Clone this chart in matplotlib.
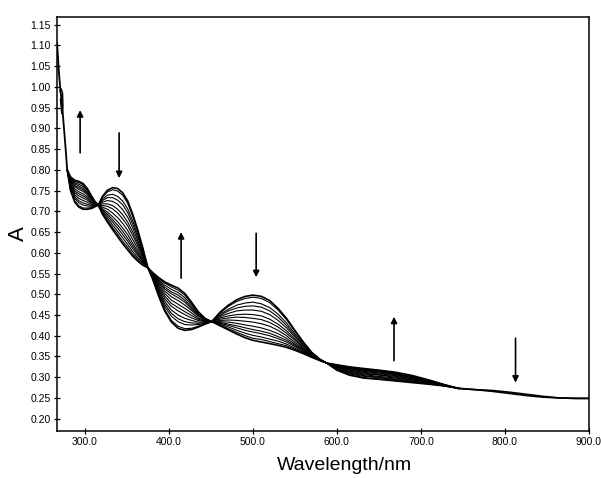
import numpy as np
import matplotlib.pyplot as plt

# steep common start of all spectra
head_nm = [267, 269, 271, 273, 275, 277, 279]
head_abs = [1.105, 1.040, 0.990, 0.955, 0.905, 0.855, 0.800]

# small loop near 272 nm
loop_nm = [270.5, 272, 273.5, 274, 273, 272, 271]
loop_abs = [0.990, 0.995, 0.985, 0.955, 0.935, 0.945, 0.970]

# absorbance of the 14 spectra (columns) at each wavelength (rows), first to last
wavelengths = [279, 283, 288, 293, 298, 303, 308, 312, 316,
               321, 327, 333, 339, 345, 351, 357, 363, 369, 375,
               381, 388, 395, 403, 411, 419, 427, 435, 443, 451,
               461, 471, 481, 491, 500, 510, 520, 530, 540, 550, 560, 570, 580, 588,
               600, 615, 632, 650, 670, 690, 710, 728, 745]
absorbance = [
    [.800, .800, .800, .800, .800, .800, .800, .800, .800, .800, .800, .800, .800, .800],
    [.750, .752, .755, .758, .761, .764, .767, .770, .773, .775, .777, .779, .781, .783],
    [.722, .725, .731, .735, .740, .745, .749, .754, .759, .762, .766, .769, .772, .775],
    [.710, .713, .720, .725, .731, .737, .742, .747, .753, .757, .761, .765, .769, .772],
    [.705, .708, .715, .720, .726, .732, .737, .742, .748, .752, .756, .760, .764, .767],
    [.705, .708, .713, .717, .722, .727, .731, .735, .740, .743, .746, .750, .753, .755],
    [.707, .709, .712, .714, .717, .720, .722, .725, .728, .730, .732, .734, .736, .737],
    [.711, .712, .713, .714, .715, .717, .718, .719, .720, .721, .722, .723, .723, .724],
    [.715, .715, .715, .715, .715, .715, .715, .715, .715, .715, .715, .715, .715, .715],
    [.736, .734, .729, .726, .722, .718, .714, .710, .706, .703, .701, .698, .695, .693],
    [.751, .747, .739, .733, .726, .718, .712, .705, .698, .693, .688, .683, .678, .674],
    [.757, .752, .741, .733, .724, .714, .706, .696, .687, .680, .674, .667, .661, .656],
    [.755, .749, .736, .727, .717, .705, .696, .685, .675, .667, .660, .652, .645, .639],
    [.745, .739, .725, .716, .704, .692, .682, .671, .660, .652, .644, .636, .628, .622],
    [.725, .719, .706, .697, .686, .674, .665, .654, .644, .635, .628, .620, .613, .607],
    [.693, .688, .677, .669, .660, .650, .642, .632, .623, .616, .610, .603, .597, .592],
    [.655, .651, .643, .637, .630, .623, .617, .610, .603, .598, .594, .588, .584, .580],
    [.612, .610, .605, .602, .598, .594, .591, .587, .583, .580, .578, .575, .572, .570],
    [.564, .564, .564, .564, .564, .564, .564, .564, .564, .564, .564, .564, .564, .564],
    [.535, .536, .538, .539, .541, .542, .544, .545, .547, .548, .549, .550, .551, .552],
    [.495, .497, .502, .506, .510, .514, .518, .522, .526, .529, .532, .535, .538, .540],
    [.460, .464, .471, .477, .483, .490, .496, .502, .508, .513, .517, .522, .527, .530],
    [.433, .437, .447, .454, .462, .471, .478, .486, .494, .501, .506, .512, .518, .522],
    [.418, .423, .434, .441, .450, .460, .468, .476, .485, .492, .498, .504, .510, .515],
    [.413, .417, .427, .434, .442, .451, .458, .466, .474, .481, .486, .492, .498, .502],
    [.415, .418, .426, .431, .437, .443, .449, .455, .461, .465, .469, .474, .478, .481],
    [.421, .423, .427, .430, .433, .437, .440, .443, .447, .449, .451, .454, .456, .458],
    [.428, .429, .430, .431, .433, .434, .435, .436, .438, .439, .440, .440, .441, .442],
    [.434, .434, .434, .434, .434, .434, .434, .434, .434, .434, .434, .434, .434, .434],
    [.457, .455, .452, .449, .446, .443, .440, .437, .434, .432, .430, .428, .426, .424],
    [.474, .471, .464, .460, .454, .448, .443, .438, .433, .428, .425, .421, .417, .414],
    [.487, .483, .474, .467, .460, .451, .445, .437, .430, .424, .419, .413, .408, .404],
    [.495, .490, .479, .471, .462, .452, .444, .435, .426, .419, .413, .406, .400, .395],
    [.498, .493, .481, .472, .462, .451, .442, .433, .423, .415, .409, .401, .394, .389],
    [.495, .490, .477, .469, .459, .448, .439, .429, .419, .411, .405, .397, .391, .385],
    [.485, .480, .468, .460, .451, .440, .432, .423, .413, .406, .400, .392, .386, .381],
    [.466, .462, .452, .445, .437, .428, .421, .413, .405, .398, .393, .387, .381, .377],
    [.442, .439, .431, .425, .419, .412, .406, .400, .394, .389, .385, .380, .376, .372],
    [.413, .411, .405, .401, .397, .392, .389, .384, .380, .377, .374, .370, .367, .365],
    [.385, .384, .381, .378, .376, .373, .371, .368, .366, .364, .362, .360, .358, .357],
    [.360, .359, .358, .357, .356, .355, .354, .353, .352, .351, .350, .349, .349, .348],
    [.343, .343, .343, .342, .342, .342, .341, .341, .341, .341, .341, .340, .340, .340],
    [.334, .334, .334, .334, .334, .334, .334, .334, .334, .334, .334, .334, .334, .334],
    [.317, .318, .319, .320, .321, .323, .324, .325, .326, .327, .328, .329, .329, .330],
    [.305, .306, .308, .310, .312, .314, .315, .317, .319, .320, .321, .323, .324, .325],
    [.298, .299, .302, .304, .306, .308, .310, .312, .314, .316, .317, .318, .320, .321],
    [.295, .296, .299, .300, .302, .305, .306, .308, .310, .312, .313, .315, .316, .317],
    [.291, .292, .294, .296, .298, .300, .302, .304, .306, .307, .308, .310, .311, .312],
    [.287, .288, .290, .291, .293, .294, .296, .297, .299, .300, .301, .302, .303, .304],
    [.283, .284, .285, .285, .286, .287, .288, .289, .290, .291, .291, .292, .293, .293],
    [.279, .279, .279, .280, .280, .280, .281, .281, .281, .281, .281, .282, .282, .282],
    [.273, .273, .273, .273, .273, .273, .273, .273, .273, .273, .273, .273, .273, .273],
]

# flat tail, first and last spectrum
tail_nm = [745, 765, 785, 805, 825, 845, 865, 885, 900]
tail_first = [0.273, 0.270, 0.268, 0.264, 0.259, 0.254, 0.250, 0.249, 0.249]
tail_last = [0.273, 0.270, 0.266, 0.261, 0.256, 0.252, 0.250, 0.249, 0.249]

# arrows: wavelength, tail A, head A
arrow_nm = [294.4, 340.8, 414.6, 503.9, 668.0, 812.6]
arrow_from = [0.841, 0.889, 0.539, 0.647, 0.340, 0.394]
arrow_to = [0.944, 0.780, 0.650, 0.541, 0.446, 0.287]

plt.rcParams['font.family'] = ['Liberation Sans', 'DejaVu Sans']

fig = plt.figure(figsize=(6.01, 4.78), dpi=100)
ax = fig.add_axes([0.095, 0.098, 0.885, 0.866])

spec = np.array(absorbance)
for k in range(spec.shape[1]):
    lw = 1.2 if k in (0, spec.shape[1] - 1) else 0.8
    ax.plot(wavelengths, spec[:, k], color='k', lw=lw)

ax.plot(head_nm, head_abs, color='k', lw=1.3)
ax.plot(loop_nm, loop_abs, color='k', lw=1.0)
ax.plot(tail_nm, tail_first, color='k', lw=1.2)
ax.plot(tail_nm, tail_last, color='k', lw=1.2)

for x, y0, y1 in zip(arrow_nm, arrow_from, arrow_to):
    ax.annotate('', xy=(x, y1), xytext=(x, y0),
                arrowprops=dict(arrowstyle='-|>', color='k', lw=1.2,
                                mutation_scale=9, shrinkA=0, shrinkB=0))

ax.set_xlim(267, 900)
ax.set_ylim(0.170, 1.168)
ax.set_xticks([300, 400, 500, 600, 700, 800, 900])
ax.set_xticklabels(['300.0', '400.0', '500.0', '600.0', '700.0', '800.0', '900.0'])
yt = [0.20 + 0.05 * i for i in range(20)]
ax.set_yticks(yt)
ax.set_yticklabels(['%.2f' % v for v in yt])
ax.tick_params(direction='inout', length=5, width=0.9, labelsize=7.5, pad=2)
for s in ax.spines.values():
    s.set_linewidth(1.1)

ax.set_xlabel('Wavelength/nm', fontsize=14)
ax.xaxis.set_label_coords(0.541, -0.062)
ax.set_ylabel('A', fontsize=16)
ax.yaxis.set_label_coords(-0.052, 0.478)

fig.savefig('out.png', dpi=100)
